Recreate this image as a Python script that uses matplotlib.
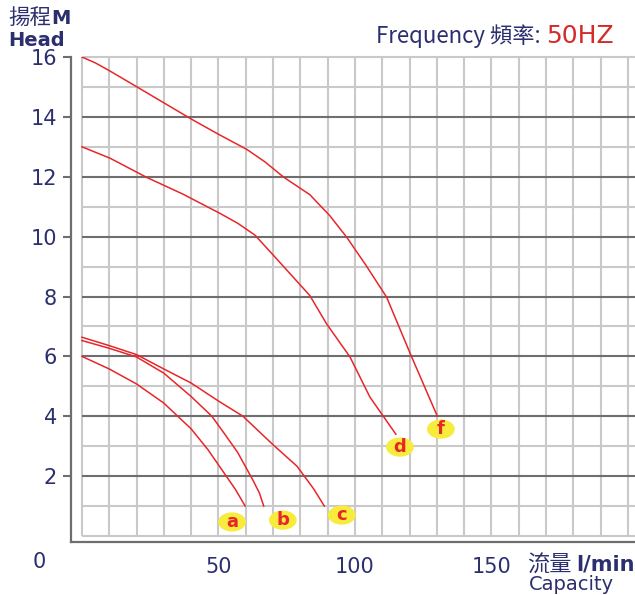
import matplotlib
matplotlib.use("Agg")
import matplotlib.pyplot as plt
from matplotlib.markers import MarkerStyle
from matplotlib.transforms import Affine2D

# pump curves (capacity l/min, head m)
a_q = [0, 10, 20, 30, 40, 46.2, 51.2, 56.2, 59.8]
a_h = [6.0, 5.58, 5.08, 4.44, 3.58, 2.88, 2.22, 1.56, 1.0]
b_q = [0, 10, 20, 30, 40, 47.6, 52.5, 57.0, 62.5, 65, 66.6]
b_h = [6.53, 6.27, 5.98, 5.44, 4.66, 4.0, 3.38, 2.8, 1.89, 1.44, 1.0]
c_q = [0, 10, 20, 30, 40, 50, 59, 70, 78.8, 85, 88.8]
c_h = [6.64, 6.36, 6.06, 5.58, 5.11, 4.51, 4.0, 3.05, 2.33, 1.56, 1.0]
d_q = [0, 10.3, 23.7, 37, 50.5, 57, 63.4, 72.5, 83.5, 89.6, 98.2, 105.5, 115]
d_h = [13.0, 12.62, 11.98, 11.42, 10.78, 10.45, 10.05, 9.14, 8.03, 7.09, 5.98, 4.64, 3.4]
f_q = [0, 5, 10.3, 20, 30, 40.2, 50, 60.3, 67, 74.0, 83.5, 90.8, 97, 104, 111.6, 120.8, 130.2]
f_h = [16.0, 15.8, 15.53, 15.01, 14.47, 13.92, 13.42, 12.92, 12.5, 11.98, 11.4, 10.7, 9.98,
       9.05, 7.98, 5.98, 4.0]

curve_names = ["a", "b", "c", "d", "f"]
label_q = [55, 73.6, 95.2, 116.5, 131.5]
label_h = [0.47, 0.53, 0.7, 2.97, 3.57]

x_ticks = [50, 100, 150]
y_ticks = [2, 4, 6, 8, 10, 12, 14, 16]

navy = "#2b2f6e"
red = "#e8262a"
cjk = ["Noto Sans CJK TC", "DejaVu Sans"]

fig = plt.figure(figsize=(6.35, 5.95), dpi=100)
ax = fig.add_axes([71 / 635, 53 / 595, 564 / 635, 485 / 595])
ax.set_xlim(-4, 202.6)
ax.set_ylim(-0.2, 16)

# grid only inside the 0..200 / 0..16 box
for y in range(0, 17):
    dark = (y % 2 == 0) and 0 < y < 16
    ax.hlines(y, 0, 210, color="#6e6e6e" if dark else "#c9c9c9",
              lw=1.5, zorder=1, clip_on=False if y == 16 else True)
for x in range(0, 201, 10):
    ax.vlines(x, 0, 16, color="#c9c9c9", lw=1.5, zorder=0.5)

for q, h in [(a_q, a_h), (b_q, b_h), (c_q, c_h), (d_q, d_h), (f_q, f_h)]:
    ax.plot(q, h, color=red, lw=1.1, zorder=3, solid_joinstyle="round")

oval = MarkerStyle("o", transform=Affine2D().scale(1.45, 1.0))
ax.scatter(label_q, label_h, marker=oval, s=190, color="#f7eb3c",
           edgecolors="none", zorder=4)
for name, q, h in zip(curve_names, label_q, label_h):
    ax.text(q, h, name, color=red, fontsize=13, fontweight="bold",
            ha="center", va="center", zorder=5)

for s in ["top", "right"]:
    ax.spines[s].set_visible(False)
for s in ["left", "bottom"]:
    ax.spines[s].set_color("#6e6e6e")
    ax.spines[s].set_linewidth(1.6)

ax.set_yticks(y_ticks)
ax.set_yticklabels([str(v) for v in y_ticks])
ax.tick_params(axis="y", length=6, width=1.5, color="#6e6e6e", pad=4,
               labelsize=15, labelcolor=navy)
ax.set_xticks(x_ticks)
ax.set_xticklabels([str(v) for v in x_ticks])
ax.tick_params(axis="x", length=0, pad=11, labelsize=15, labelcolor=navy)
ax.text(-0.057, -0.041, "0", transform=ax.transAxes, ha="center", va="center",
        fontsize=15, color=navy)

# titles
fig.text(8 / 635, 1 - 18 / 595, "揚程", family=cjk, fontsize=15.5, color=navy,
         va="center", ha="left")
fig.text(51 / 635, 1 - 18 / 595, "M", fontsize=14, fontweight="bold",
         color=navy, va="center", ha="left")
fig.text(8 / 635, 1 - 40 / 595, "Head", fontsize=14, fontweight="bold",
         color=navy, va="center", ha="left")
fig.text(541 / 635, 1 - 36 / 595, "Frequency 頻率:", family=cjk, fontsize=16,
         color=navy, va="center", ha="right")
fig.text(546 / 635, 1 - 36 / 595, "50HZ", fontsize=18, color="#d42a2a",
         va="center", ha="left")
fig.text(527 / 635, 1 - 565 / 595, "流量", family=cjk, fontsize=16,
         color=navy, va="center", ha="left")
fig.text(576 / 635, 1 - 565 / 595, "l/min", fontsize=15, fontweight="bold",
         color=navy, va="center", ha="left")
fig.text(529 / 635, 1 - 584 / 595, "Capacity", fontsize=14, color=navy,
         va="center", ha="left")

fig.savefig("out.png", dpi=100)
